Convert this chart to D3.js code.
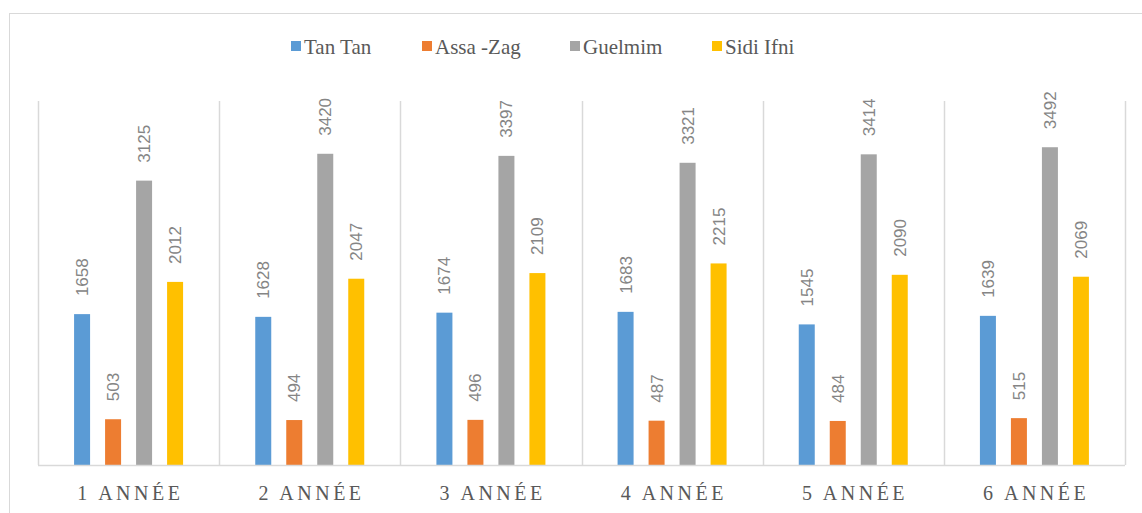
<!DOCTYPE html>
<html>
<head>
<meta charset="utf-8">
<script src="https://cdn.jsdelivr.net/npm/d3@7"></script>
<style>
  body { margin: 0; background: #fff; }
</style>
</head>
<body>
<div id="chart"></div>
<script>
// data
const categories = ["1 année", "2 année", "3 année", "4 année", "5 année", "6 année"];
const seriesNames = ["Tan Tan", "Assa -Zag", "Guelmim", "Sidi Ifni"];
const tanTan   = [1658, 1628, 1674, 1683, 1545, 1639];
const assaZag  = [503, 494, 496, 487, 484, 515];
const guelmim  = [3125, 3420, 3397, 3321, 3414, 3492];
const sidiIfni = [2012, 2047, 2109, 2215, 2090, 2069];
const colors = ["#5B9BD5", "#ED7D31", "#A5A5A5", "#FFC000"];

const series = [tanTan, assaZag, guelmim, sidiIfni];

const W = 1142, H = 513;
const plot = {left: 38, right: 1125, top: 101, bottom: 465};
const serif = "'Liberation Serif', 'Times New Roman', serif";

const svg = d3.select("#chart")
  .append("svg")
    .attr("width", W)
    .attr("height", H);

// chart border
svg.append("rect")
    .attr("x", 9.5).attr("y", 13.5)
    .attr("width", W + 20).attr("height", H + 20)
    .attr("fill", "none")
    .attr("stroke", "#d9d9d9");

// scales
const x0 = d3.scaleBand().domain(categories).range([plot.left, plot.right]).padding(0);
const x1 = d3.scaleBand().domain(seriesNames).range([-54.5, 54.5]).paddingInner(15 / 31).paddingOuter(0);
const y = d3.scaleLinear().domain([0, 4000]).range([plot.bottom, plot.top]);

// vertical gridlines at category boundaries
const bounds = categories.map(c => x0(c)).concat([plot.right]);
svg.append("g")
  .selectAll("line")
  .data(bounds)
  .join("line")
    .attr("x1", d => Math.round(d) + 0.5)
    .attr("x2", d => Math.round(d) + 0.5)
    .attr("y1", plot.top)
    .attr("y2", plot.bottom)
    .attr("stroke", "#d9d9d9")
    .attr("stroke-width", 1.5);

// bars + value labels
const groups = svg.append("g")
  .selectAll("g")
  .data(categories)
  .join("g")
    .attr("transform", d => `translate(${x0(d) + x0.bandwidth() / 2},0)`);

groups.each(function(cat, ci) {
  const g = d3.select(this);
  seriesNames.forEach((name, si) => {
    const v = series[si][ci];
    g.append("rect")
      .attr("x", x1(name))
      .attr("width", x1.bandwidth())
      .attr("y", y(v))
      .attr("height", y(0) - y(v))
      .attr("fill", colors[si]);
    const cx = x1(name) + x1.bandwidth() / 2 + 6;
    const ty = y(v) - 18;
    g.append("text")
      .attr("transform", `translate(${cx},${ty}) rotate(-90)`)
      .attr("text-anchor", "start")
      .style("font-family", "'Liberation Sans', sans-serif")
      .style("font-size", "17px")
      .style("fill", "#858585")
      .text(v);
  });
});

// x axis line
svg.append("line")
    .attr("x1", plot.left).attr("x2", plot.right)
    .attr("y1", plot.bottom + 0.5).attr("y2", plot.bottom + 0.5)
    .attr("stroke", "#d9d9d9")
    .attr("stroke-width", 1.5);

// x labels
svg.append("g")
  .selectAll("text")
  .data(categories)
  .join("text")
    .attr("x", d => x0(d) + x0.bandwidth() / 2 + 1.75)
    .attr("y", 500)
    .attr("text-anchor", "middle")
    .style("font-family", serif)
    .style("font-size", "20px")
    .style("letter-spacing", "3.5px")
    .style("fill", "#595959")
    .text(d => d.toUpperCase());

// legend
const legendX = [291, 422, 570, 712];
const legend = svg.append("g");
seriesNames.forEach((name, i) => {
  legend.append("rect")
    .attr("x", legendX[i]).attr("y", 41)
    .attr("width", 10).attr("height", 10)
    .attr("fill", colors[i]);
  legend.append("text")
    .attr("x", legendX[i] + 13)
    .attr("y", 54)
    .style("font-family", serif)
    .style("font-size", "21px")
    .style("fill", "#595959")
    .text(name);
});
</script>
</body>
</html>
